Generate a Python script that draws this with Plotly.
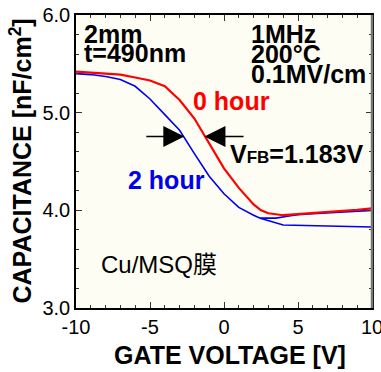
import plotly.graph_objects as go

# 0 hour (red)
v_red = [-10, -9, -8, -7, -6, -5, -4, -3, -2, -1, 0, 1, 2, 2.5, 3, 4, 5, 6, 7, 8, 9, 10]
c_red = [5.42, 5.41, 5.40, 5.39, 5.36, 5.33, 5.27, 5.13, 4.94, 4.69, 4.43, 4.23, 4.06, 4.00, 3.97, 3.95, 3.96, 3.97, 3.98, 3.995, 4.005, 4.02]

# 2 hour (blue) main sweep
v_blue = [-10, -9, -8, -7, -6, -5, -4, -3, -2, -1, 0, 1, 2, 2.45, 4.0, 6, 8, 10]
c_blue = [5.40, 5.39, 5.37, 5.34, 5.27, 5.14, 4.98, 4.82, 4.58, 4.35, 4.17, 4.03, 3.95, 3.92, 3.85, 3.845, 3.84, 3.83]

# 2 hour (blue) upper branch
v_blue2 = [2.45, 3.5, 4.5, 5, 6, 7, 8, 9, 10]
c_blue2 = [3.92, 3.92, 3.945, 3.955, 3.965, 3.975, 3.985, 3.995, 4.00]

x_ticks = [-10, -5, 0, 5, 10]
y_ticks = [3.0, 4.0, 5.0, 6.0]

FONT = "Liberation Sans, Arial, Noto Sans CJK JP"

fig = go.Figure()
fig.add_trace(go.Scatter(x=v_blue, y=c_blue, mode="lines",
                         line=dict(color="#0000ee", width=1.6), showlegend=False))
fig.add_trace(go.Scatter(x=v_blue2, y=c_blue2, mode="lines",
                         line=dict(color="#0000ee", width=1.6), showlegend=False))
fig.add_trace(go.Scatter(x=v_red, y=c_red, mode="lines",
                         line=dict(color="#ff0000", width=2.2), showlegend=False))

axis_common = dict(showline=True, linecolor="black", linewidth=1.5, mirror="allticks",
                   ticks="inside", ticklen=6, tickwidth=1, tickcolor="#333",
                   showgrid=False, zeroline=False, ticklabeloverflow="allow", automargin=False,
                   tickfont=dict(family=FONT, size=20, color="black"))

fig.update_xaxes(range=[-10, 10], tickvals=x_ticks, ticktext=[str(v) for v in x_ticks],
                 minor=dict(dtick=1, ticklen=3, ticks="inside", tickcolor="#333"),
                 **axis_common)
fig.update_yaxes(range=[3.0, 6.0], tickvals=y_ticks, ticktext=[f"{v:.1f}" for v in y_ticks],
                 minor=dict(dtick=0.2, ticklen=3, ticks="inside", tickcolor="#333"),
                 **axis_common)

bold = dict(family=FONT, size=25, color="black")
anns = [
    dict(x=0.02, y=0.935, text="<b>2mm</b>", xanchor="left", font=bold),
    dict(x=0.02, y=0.870, text="<b>t=490nm</b>", xanchor="left", font=bold),
    dict(x=0.585, y=0.935, text="<b>1MHz</b>", xanchor="left", font=bold),
    dict(x=0.585, y=0.868, text="<b>200°C</b>", xanchor="left", font=bold),
    dict(x=0.585, y=0.797, text="<b>0.1MV/cm</b>", xanchor="left", font=bold),
    dict(x=0.39, y=0.706, text="<b>0 hour</b>", xanchor="left", font=dict(family=FONT, size=25, color="#ff0000")),
    dict(x=0.17, y=0.437, text="<b>2 hour</b>", xanchor="left", font=dict(family=FONT, size=25, color="#0000ee")),
    dict(x=0.515, y=0.527, text="<b>V<span style='font-size:17px'>FB</span>=1.183V</b>", xanchor="left", font=bold),
    dict(x=0.078, y=0.147, text="Cu/MSQ膜", xanchor="left", font=dict(family=FONT, size=24, color="black")),
]
for a in anns:
    fig.add_annotation(xref="paper", yref="paper", showarrow=False, yanchor="middle", **a)

# arrows
fig.add_annotation(x=-2.68, y=4.755, ax=-5.35, ay=4.755, xref="x", yref="y", axref="x", ayref="y",
                   text="", showarrow=True, arrowhead=2, arrowsize=2.8, arrowwidth=1.5, arrowcolor="black")
fig.add_annotation(x=-1.32, y=4.755, ax=1.42, ay=4.755, xref="x", yref="y", axref="x", ayref="y",
                   text="", showarrow=True, arrowhead=2, arrowsize=2.8, arrowwidth=1.5, arrowcolor="black")

# grey right frame edge
fig.add_shape(type="line", xref="paper", yref="paper", x0=1, x1=1, y0=0, y1=1,
              line=dict(color="#777", width=2.5))

# axis titles
fig.add_annotation(xref="paper", yref="paper", x=0.52, y=0, yshift=-47, xanchor="center", yanchor="middle",
                   text="<b>GATE VOLTAGE [V]</b>", showarrow=False, font=dict(family=FONT, size=25, color="black"))
fig.add_annotation(xref="paper", yref="paper", x=0, y=0.5, xshift=-56, xanchor="center", yanchor="middle",
                   textangle=-90, text="<b>CAPACITANCE [nF/cm<sup>2</sup>]</b>", showarrow=False,
                   font=dict(family=FONT, size=25, color="black"))

fig.update_layout(width=381, height=372, margin=dict(l=76, r=9, t=15, b=64, autoexpand=False),
                  paper_bgcolor="white", plot_bgcolor="#fdfdf3")

fig.write_html("out.html")
